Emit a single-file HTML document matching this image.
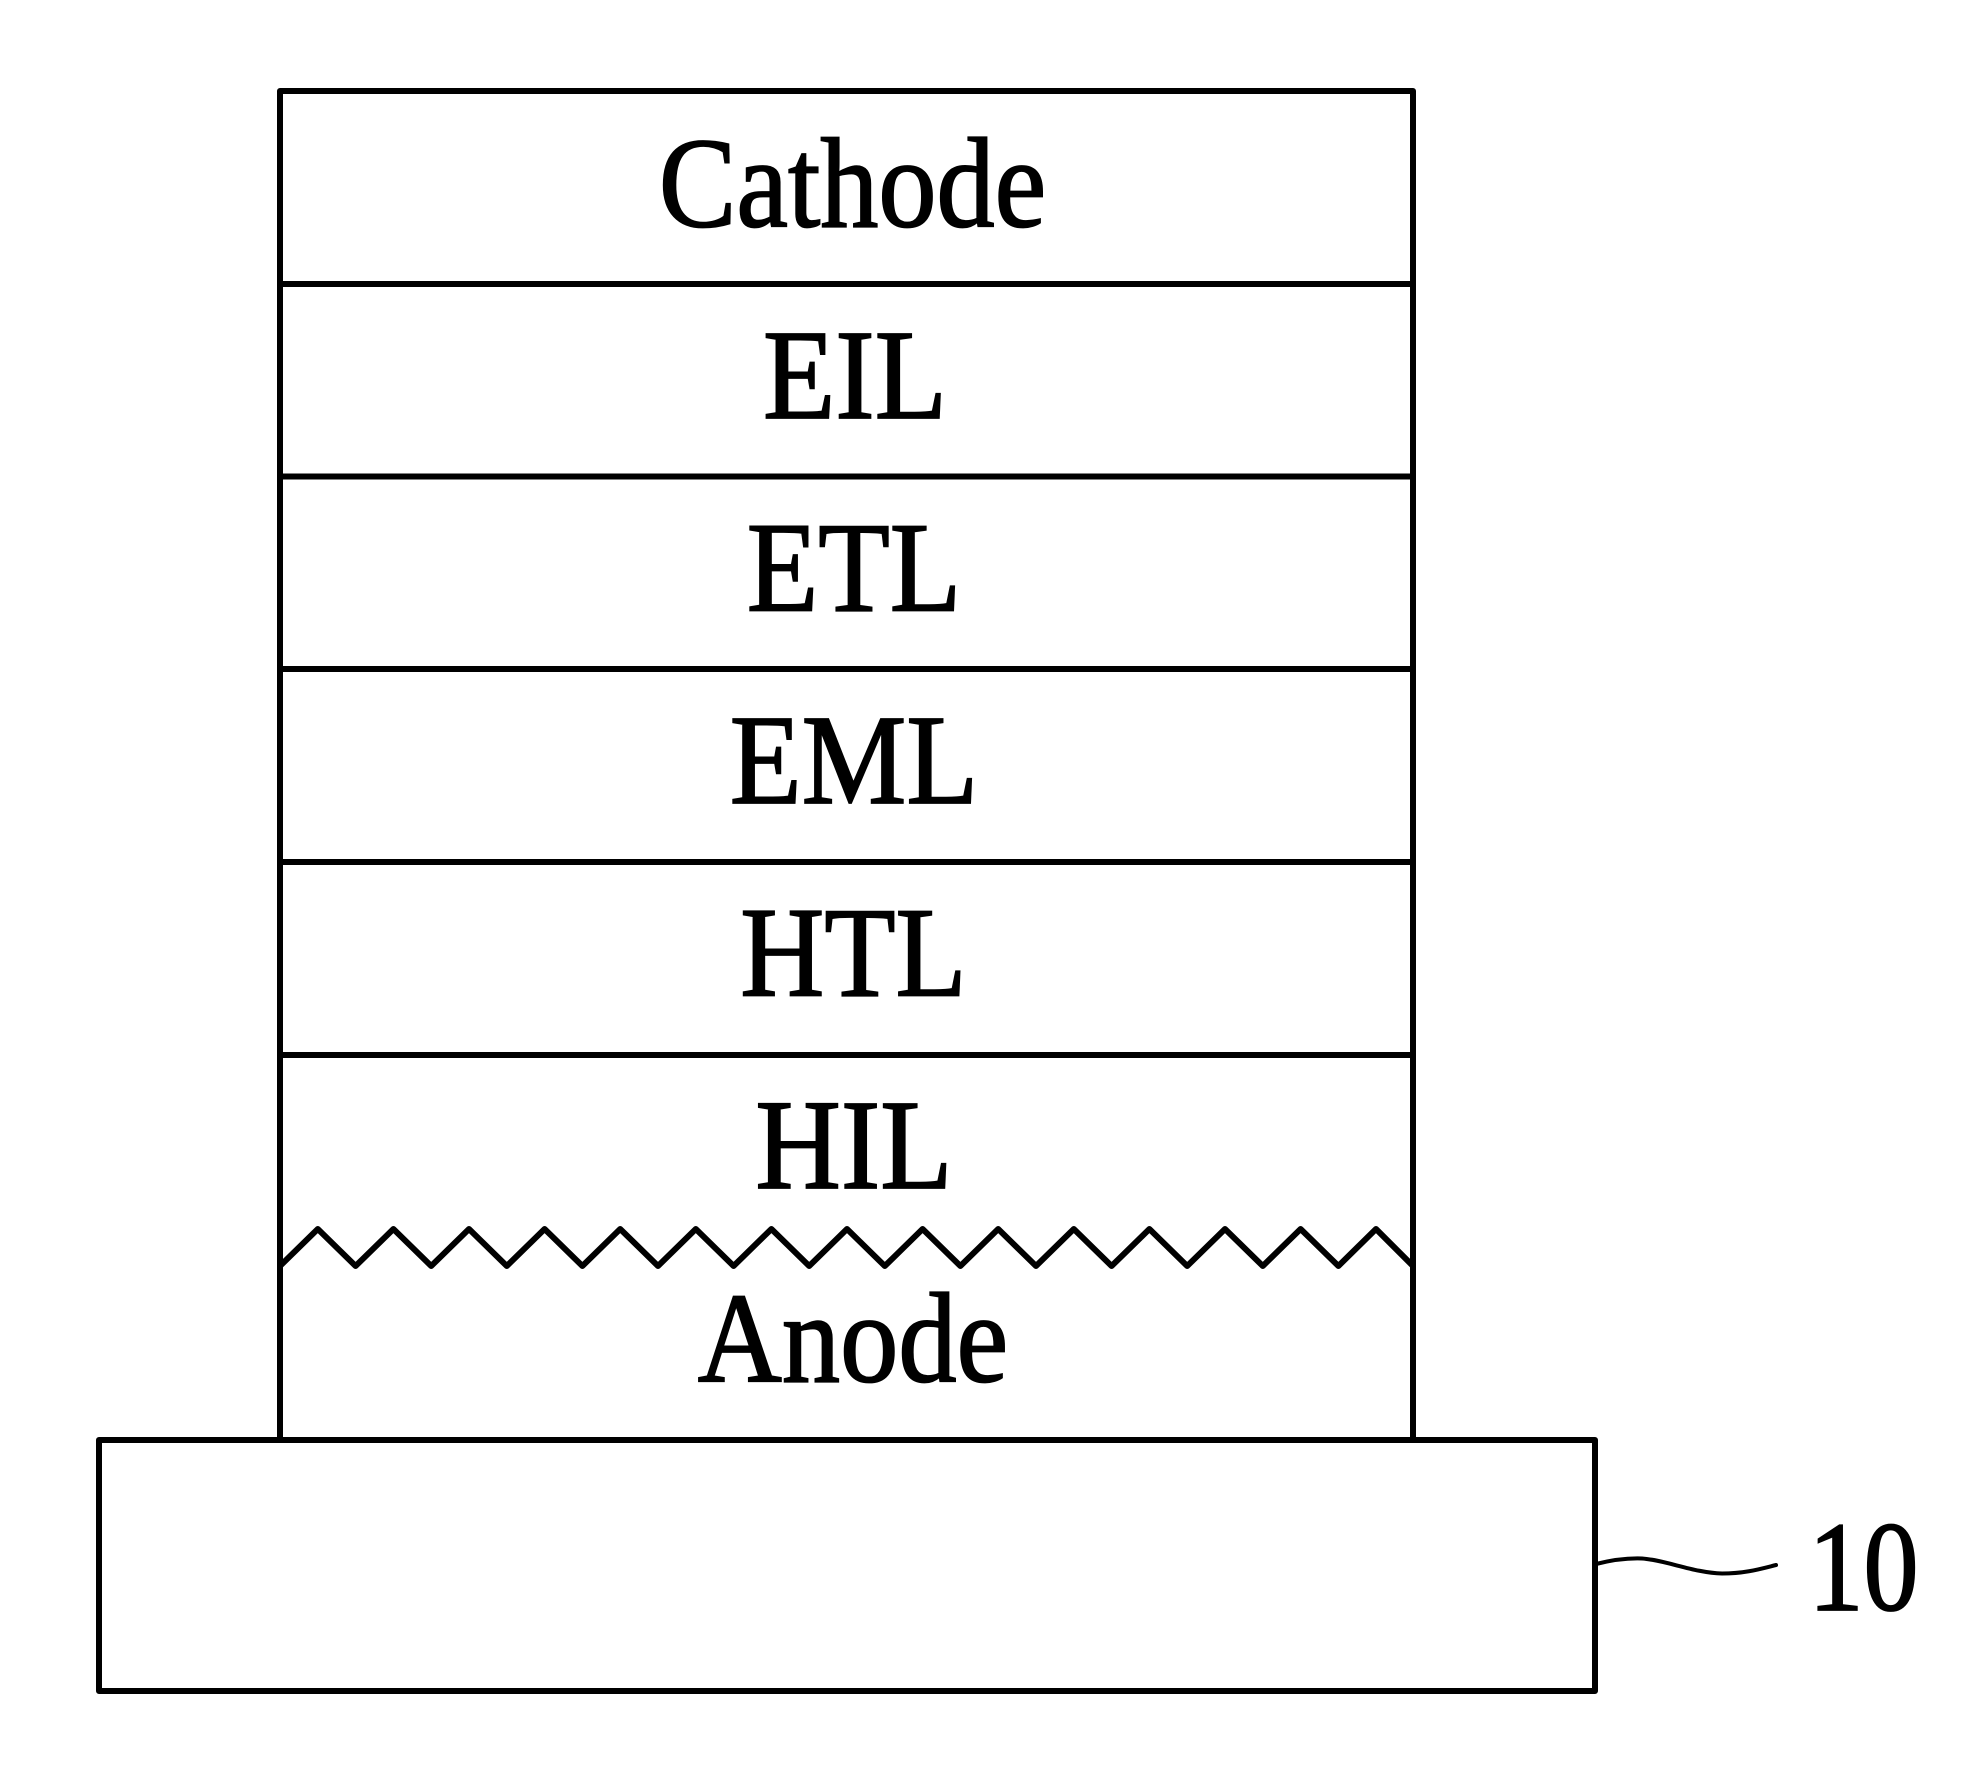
<!DOCTYPE html>
<html>
<head>
<meta charset="utf-8">
<style>
html,body{margin:0;padding:0;background:#fff;}
svg{display:block;}
text{font-family:"Liberation Serif",serif;font-size:128px;fill:#000;stroke:#000;stroke-width:1.8px;text-anchor:middle;}
</style>
</head>
<body>
<svg width="1987" height="1765" viewBox="0 0 1987 1765" xmlns="http://www.w3.org/2000/svg">
<rect width="1987" height="1765" fill="#fff"/>
<g fill="none" stroke="#000" stroke-width="6" stroke-linejoin="round">
<path d="M280 1440V91H1413V1440"/>
<path d="M280 284H1413M280 476.5H1413M280 669H1413M280 862H1413M280 1055H1413"/>
<rect x="99" y="1440" width="1496" height="251"/>
</g>
<path fill="none" stroke="#000" stroke-width="6" stroke-linejoin="round" d="M280 1266L317.8 1229L355.6 1266L393.4 1229L431.2 1266L469 1229L506.8 1266L544.6 1229L582.4 1266L620.2 1229L658 1266L695.8 1229L733.6 1266L771.4 1229L809.2 1266L847 1229L884.8 1266L922.6 1229L960.4 1266L998.2 1229L1036 1266L1073.8 1229L1111.6 1266L1149.4 1229L1187.2 1266L1225 1229L1262.8 1266L1300.6 1229L1338.4 1266L1376 1229L1413 1266"/>
<path fill="none" stroke="#000" stroke-width="4" stroke-linecap="round" d="M1596 1564C1612 1560 1628 1558 1642 1558.5C1665 1560 1695 1573 1722 1573.5C1745 1573.5 1760 1569 1776 1565"/>
<text transform="translate(852.5 226.5) scale(0.908 1)">Cathode</text>
<text transform="translate(855 418) scale(0.925 1)">EIL</text>
<text transform="translate(854 610.5) scale(0.915 1)">ETL</text>
<text transform="translate(854 803) scale(0.92 1)">EML</text>
<text transform="translate(853.5 995.5) scale(0.91 1)">HTL</text>
<text transform="translate(854 1188) scale(0.925 1)">HIL</text>
<text transform="translate(853 1381.5) scale(0.91 1)">Anode</text>
<text transform="translate(1863.5 1610) scale(0.86 1)">10</text>
</svg>
</body>
</html>
